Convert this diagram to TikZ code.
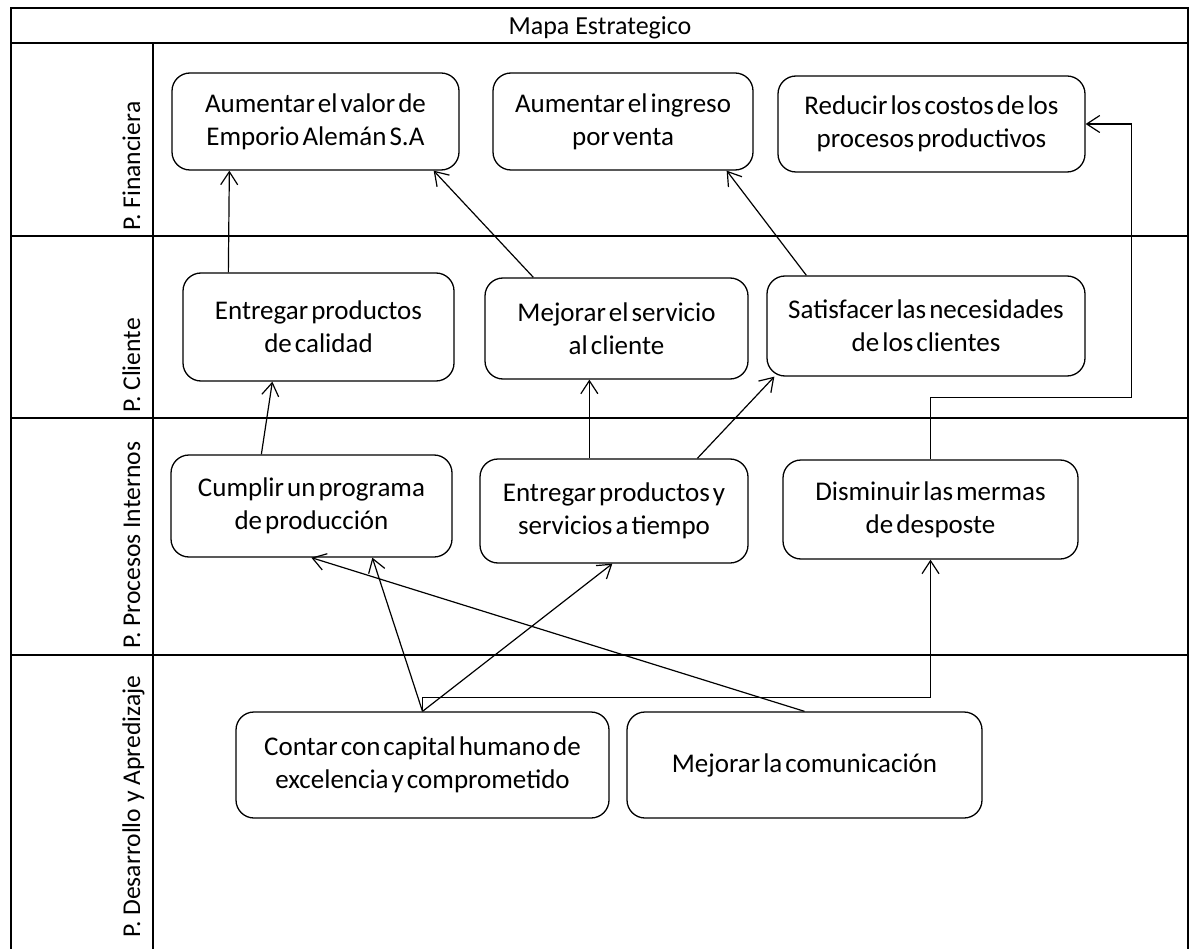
\documentclass[tikz,border=0pt]{standalone}
\usepackage{fontspec}
\setmainfont{Carlito}[WordSpace=0.5]
\newfontfamily\etiqueta{Carlito}
\usetikzlibrary{arrows.meta}

\begin{document}
\begin{tikzpicture}[x=1pt, y=-1pt,
    objetivo/.style={draw, line width=1.3pt, rounded corners=18pt, align=center,
        inner sep=0pt, font=\fontsize{27}{33}\selectfont},
    flecha/.style={line width=1.2pt, -{Straight Barb[length=13pt, width=17pt]}},
    carril/.style={rotate=90, anchor=base west, inner sep=0pt,
        font=\etiqueta\fontsize{25.6}{30}\selectfont}]
    \useasboundingbox (0, 0) rectangle (1193, 949);

    % Frame and lanes
    \draw[line width=2.5pt] (11, 951) -- (11, 8) -- (1188, 8) -- (1188, 951);
    \draw[line width=2.5pt] (11, 43) -- (1188, 43);
    \draw[line width=2.5pt] (11, 236) -- (1188, 236);
    \draw[line width=2.5pt] (11, 418) -- (1188, 418);
    \draw[line width=2.5pt] (11, 655) -- (1188, 655);
    \draw[line width=2.5pt] (153, 43) -- (153, 951);
    \node[anchor=base, inner sep=0pt, font=\etiqueta\fontsize{26}{30}\selectfont] (titulo)
        at (600, 35) {Mapa Estrategico};

    % Lane labels
    \node[carril] (lfin) at (140, 231) {P. Financiera};
    \node[carril] (lcli) at (140, 413) {P. Cliente};
    \node[carril] (lpro) at (140, 649) {P. Procesos Internos};
    \node[carril] (ldes) at (140, 938) {P. Desarrollo y Apredizaje};

    % Financial objectives
    \node[objetivo, minimum width=287pt, minimum height=97pt] (valor) at (315.5, 121.5)
        {Aumentar el valor de\\Emporio Alemán S.A};
    \node[objetivo, minimum width=260pt, minimum height=97pt] (ingreso) at (623, 121.5)
        {Aumentar el ingreso\\por venta};
    \node[objetivo, minimum width=307pt, minimum height=96pt] (costos) at (931.5, 124)
        {Reducir los costos de los\\procesos productivos};

    % Client objectives
    \node[objetivo, minimum width=271pt, minimum height=108pt] (calidad) at (318.5, 327)
        {Entregar productos\\de calidad};
    \node[objetivo, minimum width=263pt, minimum height=101pt] (servicio) at (616.5, 328.5)
        {Mejorar el servicio\\al cliente};
    \node[objetivo, minimum width=318pt, minimum height=100pt] (necesidades) at (926, 326)
        {Satisfacer las necesidades\\de los clientes};

    % Internal process objectives
    \node[objetivo, minimum width=281pt, minimum height=102pt] (programa) at (311.5, 506)
        {Cumplir un programa\\de producción};
    \node[objetivo, minimum width=268pt, minimum height=104pt] (tiempo) at (614, 511)
        {Entregar productos y\\servicios a tiempo};
    \node[objetivo, minimum width=295pt, minimum height=99pt] (mermas) at (930.5, 509.5)
        {Disminuir las mermas\\de desposte};

    % Learning objectives
    \node[objetivo, minimum width=373pt, minimum height=106pt] (capital) at (422.5, 765)
        {Contar con capital humano de\\excelencia y comprometido};
    \node[objetivo, minimum width=355pt, minimum height=106pt] (comunicacion) at (804.5, 765)
        {Mejorar la comunicación};

    % Links into the financial lane
    \draw[flecha] ([xshift=46pt]calidad.north west) -- ([xshift=58pt]valor.south west);
    \draw[flecha] ([xshift=49pt]servicio.north west) -- ([xshift=-26pt]valor.south east);
    \draw[flecha] ([xshift=40pt]necesidades.north west) -- ([xshift=-27pt]ingreso.south east);
    \draw[flecha] (mermas.north) -- ++(0, -62) -| ([xshift=46pt]costos.east) -- (costos.east);

    % Links into the client lane
    \draw[flecha] ([xshift=91pt]programa.north west) -- ([xshift=90pt]calidad.south west);
    \draw[flecha] ([xshift=110pt]tiempo.north west) -- ([xshift=105pt]servicio.south west);
    \draw[flecha] ([xshift=218pt]tiempo.north west) -- ([xshift=8pt]necesidades.south west);

    % Links into the process lane
    \draw[flecha] (capital.north) -- ([xshift=202pt]programa.south west);
    \draw[flecha] (capital.north) -- ([xshift=133pt]tiempo.south west);
    \draw[flecha] (capital.north) -- ++(0, -14) -| (mermas.south);
    \draw[flecha] (comunicacion.north) -- ([xshift=141pt]programa.south west);
\end{tikzpicture}
\end{document}
